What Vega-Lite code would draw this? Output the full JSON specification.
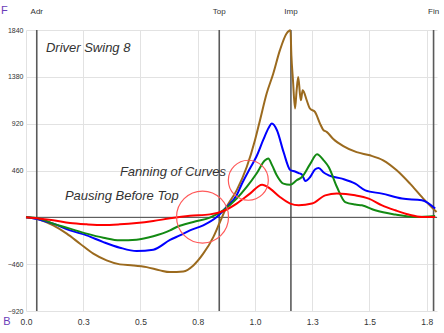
{
  "$schema": "https://vega.github.io/schema/vega-lite/v6.json",
  "width": 411,
  "height": 281,
  "autosize": {"type": "none"},
  "padding": {"left": 26, "top": 30, "right": 7, "bottom": 22},
  "background": "white",
  "config": {
    "font": "Liberation Sans",
    "view": {"stroke": null}
  },
  "datasets": {
    "curves": [
      {"s":"Hand","t":0,"v":0},{"s":"Hand","t":0.061,"v":-23},{"s":"Hand","t":0.119,"v":-79},{"s":"Hand","t":0.178,"v":-160},{"s":"Hand","t":0.236,"v":-259},{"s":"Hand","t":0.294,"v":-357},{"s":"Hand","t":0.352,"v":-423},{"s":"Hand","t":0.41,"v":-462},{"s":"Hand","t":0.469,"v":-472},{"s":"Hand","t":0.527,"v":-489},{"s":"Hand","t":0.585,"v":-521},{"s":"Hand","t":0.629,"v":-538},{"s":"Hand","t":0.687,"v":-531},{"s":"Hand","t":0.731,"v":-472},{"s":"Hand","t":0.774,"v":-357},{"s":"Hand","t":0.818,"v":-194},{"s":"Hand","t":0.847,"v":-46},{"s":"Hand","t":0.876,"v":101},{"s":"Hand","t":0.92,"v":265},{"s":"Hand","t":0.964,"v":494},{"s":"Hand","t":1.0,"v":757},{"s":"Hand","t":1.022,"v":954},{"s":"Hand","t":1.051,"v":1216},{"s":"Hand","t":1.08,"v":1413},{"s":"Hand","t":1.109,"v":1642},{"s":"Hand","t":1.138,"v":1806},{"s":"Hand","t":1.155,"v":1838},{"s":"Hand","t":1.159,"v":1592},{"s":"Hand","t":1.166,"v":1346},{"s":"Hand","t":1.175,"v":1069},{"s":"Hand","t":1.182,"v":1250},{"s":"Hand","t":1.189,"v":1379},{"s":"Hand","t":1.197,"v":1200},{"s":"Hand","t":1.201,"v":1150},{"s":"Hand","t":1.208,"v":1248},{"s":"Hand","t":1.214,"v":1230},{"s":"Hand","t":1.226,"v":1150},{"s":"Hand","t":1.24,"v":1069},{"s":"Hand","t":1.262,"v":1035},{"s":"Hand","t":1.284,"v":921},{"s":"Hand","t":1.298,"v":860},{"s":"Hand","t":1.313,"v":839},{"s":"Hand","t":1.342,"v":770},{"s":"Hand","t":1.386,"v":700},{"s":"Hand","t":1.444,"v":640},{"s":"Hand","t":1.502,"v":609},{"s":"Hand","t":1.56,"v":560},{"s":"Hand","t":1.619,"v":462},{"s":"Hand","t":1.677,"v":331},{"s":"Hand","t":1.735,"v":184},{"s":"Hand","t":1.793,"v":52},
      {"s":"Arm","t":0,"v":0},{"s":"Arm","t":0.061,"v":-23},{"s":"Arm","t":0.119,"v":-62},{"s":"Arm","t":0.192,"v":-128},{"s":"Arm","t":0.265,"v":-177},{"s":"Arm","t":0.338,"v":-243},{"s":"Arm","t":0.41,"v":-298},{"s":"Arm","t":0.483,"v":-331},{"s":"Arm","t":0.556,"v":-318},{"s":"Arm","t":0.629,"v":-222},{"s":"Arm","t":0.672,"v":-177},{"s":"Arm","t":0.716,"v":-128},{"s":"Arm","t":0.774,"v":-79},{"s":"Arm","t":0.833,"v":3},{"s":"Arm","t":0.876,"v":101},{"s":"Arm","t":0.92,"v":216},{"s":"Arm","t":0.943,"v":330},{"s":"Arm","t":0.978,"v":480},{"s":"Arm","t":1.007,"v":600},{"s":"Arm","t":1.036,"v":760},{"s":"Arm","t":1.06,"v":880},{"s":"Arm","t":1.074,"v":921},{"s":"Arm","t":1.096,"v":855},{"s":"Arm","t":1.125,"v":640},{"s":"Arm","t":1.154,"v":465},{"s":"Arm","t":1.175,"v":450},{"s":"Arm","t":1.191,"v":435},{"s":"Arm","t":1.205,"v":420},{"s":"Arm","t":1.22,"v":357},{"s":"Arm","t":1.241,"v":396},{"s":"Arm","t":1.262,"v":470},{"s":"Arm","t":1.278,"v":485},{"s":"Arm","t":1.3,"v":440},{"s":"Arm","t":1.322,"v":413},{"s":"Arm","t":1.38,"v":380},{"s":"Arm","t":1.438,"v":331},{"s":"Arm","t":1.482,"v":265},{"s":"Arm","t":1.555,"v":233},{"s":"Arm","t":1.642,"v":184},{"s":"Arm","t":1.729,"v":167},{"s":"Arm","t":1.787,"v":86},
      {"s":"Thorax","t":0,"v":0},{"s":"Thorax","t":0.061,"v":-13},{"s":"Thorax","t":0.119,"v":-62},{"s":"Thorax","t":0.192,"v":-111},{"s":"Thorax","t":0.265,"v":-160},{"s":"Thorax","t":0.338,"v":-200},{"s":"Thorax","t":0.41,"v":-226},{"s":"Thorax","t":0.483,"v":-219},{"s":"Thorax","t":0.556,"v":-185},{"s":"Thorax","t":0.629,"v":-128},{"s":"Thorax","t":0.658,"v":-95},{"s":"Thorax","t":0.731,"v":-46},{"s":"Thorax","t":0.803,"v":-3},{"s":"Thorax","t":0.862,"v":69},{"s":"Thorax","t":0.92,"v":184},{"s":"Thorax","t":0.964,"v":298},{"s":"Thorax","t":1.007,"v":430},{"s":"Thorax","t":1.044,"v":560},{"s":"Thorax","t":1.058,"v":577},{"s":"Thorax","t":1.075,"v":510},{"s":"Thorax","t":1.095,"v":413},{"s":"Thorax","t":1.124,"v":331},{"s":"Thorax","t":1.154,"v":320},{"s":"Thorax","t":1.182,"v":364},{"s":"Thorax","t":1.205,"v":396},{"s":"Thorax","t":1.24,"v":520},{"s":"Thorax","t":1.271,"v":619},{"s":"Thorax","t":1.3,"v":560},{"s":"Thorax","t":1.322,"v":494},{"s":"Thorax","t":1.358,"v":298},{"s":"Thorax","t":1.394,"v":150},{"s":"Thorax","t":1.438,"v":125},{"s":"Thorax","t":1.467,"v":118},{"s":"Thorax","t":1.525,"v":69},{"s":"Thorax","t":1.613,"v":27},{"s":"Thorax","t":1.7,"v":3},{"s":"Thorax","t":1.787,"v":13},
      {"s":"Pelvis","t":0,"v":0},{"s":"Pelvis","t":0.061,"v":-13},{"s":"Pelvis","t":0.119,"v":-29},{"s":"Pelvis","t":0.192,"v":-56},{"s":"Pelvis","t":0.265,"v":-69},{"s":"Pelvis","t":0.338,"v":-76},{"s":"Pelvis","t":0.41,"v":-69},{"s":"Pelvis","t":0.483,"v":-56},{"s":"Pelvis","t":0.556,"v":-36},{"s":"Pelvis","t":0.629,"v":-10},{"s":"Pelvis","t":0.716,"v":15},{"s":"Pelvis","t":0.803,"v":29},{"s":"Pelvis","t":0.862,"v":62},{"s":"Pelvis","t":0.92,"v":135},{"s":"Pelvis","t":0.978,"v":233},{"s":"Pelvis","t":1.031,"v":321},{"s":"Pelvis","t":1.066,"v":282},{"s":"Pelvis","t":1.109,"v":200},{"s":"Pelvis","t":1.154,"v":135},{"s":"Pelvis","t":1.191,"v":118},{"s":"Pelvis","t":1.249,"v":135},{"s":"Pelvis","t":1.307,"v":216},{"s":"Pelvis","t":1.358,"v":233},{"s":"Pelvis","t":1.438,"v":216},{"s":"Pelvis","t":1.497,"v":184},{"s":"Pelvis","t":1.555,"v":118},{"s":"Pelvis","t":1.613,"v":69},{"s":"Pelvis","t":1.671,"v":27},{"s":"Pelvis","t":1.729,"v":3},{"s":"Pelvis","t":1.787,"v":3}
    ],
    "events": [
      {"event":"Adr","t":0.047},{"event":"Top","t":0.844},{"event":"Imp","t":1.157},{"event":"Fin","t":1.78}
    ],
    "notes": [
      {"note":"Driver Swing 8","t":0.087,"v":1661},
      {"note":"Fanning of Curves","t":0.41,"v":442},
      {"note":"Pausing Before Top","t":0.17,"v":206}
    ],
    "corner": [
      {"letter":"F","t":-0.094,"v":2025},
      {"letter":"B","t":-0.083,"v":-1027}
    ]
  },
  "layer": [
    {
      "data": {"name": "events"},
      "mark": {"type": "rule", "color": "#5a5a5a", "strokeWidth": 1.6},
      "encoding": {
        "x": {
          "field": "t", "type": "quantitative",
          "scale": {"domain": [0, 1.795], "nice": false, "zero": false},
          "axis": {
            "orient": "bottom", "values": [0, 0.25, 0.5, 0.75, 1, 1.25, 1.5, 1.75],
            "format": ".1f", "grid": true, "gridColor": "#e2e2e2", "domain": false, "ticks": false,
            "title": null, "labelFontSize": 8.5, "labelColor": "#333", "labelPadding": 6,
            "labelFlush": false, "labelOverlap": false
          }
        }
      }
    },
    {
      "data": {"name": "events"},
      "mark": {"type": "text", "fontSize": 8, "color": "#333", "align": "center", "baseline": "middle"},
      "encoding": {
        "x": {"field": "t", "type": "quantitative"},
        "y": {"datum": 2017},
        "text": {"field": "event"}
      }
    },
    {
      "data": {"values": [{"v": 0}]},
      "mark": {"type": "rule", "color": "#444", "strokeWidth": 1},
      "encoding": {
        "y": {
          "field": "v", "type": "quantitative",
          "scale": {"domain": [-920, 1840], "nice": false, "zero": false},
          "axis": {
            "orient": "left",
            "values": [-920, -460, 0, 460, 920, 1380, 1840],
            "labelExpr": "datum.value == 0 ? '' : datum.label",
            "format": "d", "grid": true, "gridColor": "#e2e2e2", "domain": false, "ticks": false,
            "title": null, "labelFontSize": 7, "labelColor": "#333", "labelPadding": 3,
            "labelFlush": false, "labelOverlap": false
          }
        }
      }
    },
    {
      "data": {"name": "curves"},
      "mark": {"type": "line", "strokeWidth": 2, "interpolate": "monotone"},
      "encoding": {
        "x": {"field": "t", "type": "quantitative"},
        "y": {"field": "v", "type": "quantitative"},
        "color": {
          "field": "s", "type": "nominal", "legend": null,
          "scale": {"domain": ["Hand", "Arm", "Thorax", "Pelvis"], "range": ["#9b6a1e", "#0000ff", "#138a13", "#ff0000"]}
        },
        "order": {"field": "t", "type": "quantitative"}
      }
    },
    {
      "data": {"values": [{"t": 0.771, "v": 3}]},
      "mark": {"type": "point", "shape": "circle", "filled": false, "size": 2704, "stroke": "#ff5a5a", "strokeWidth": 1.2, "opacity": 1},
      "encoding": {
        "x": {"field": "t", "type": "quantitative"},
        "y": {"field": "v", "type": "quantitative"}
      }
    },
    {
      "data": {"values": [{"t": 0.971, "v": 364}]},
      "mark": {"type": "point", "shape": "circle", "filled": false, "size": 1600, "stroke": "#ff5a5a", "strokeWidth": 1.2, "opacity": 1},
      "encoding": {
        "x": {"field": "t", "type": "quantitative"},
        "y": {"field": "v", "type": "quantitative"}
      }
    },
    {
      "data": {"name": "notes"},
      "mark": {"type": "text", "align": "left", "baseline": "middle", "fontStyle": "italic", "fontSize": 13, "color": "#333"},
      "encoding": {
        "x": {"field": "t", "type": "quantitative"},
        "y": {"field": "v", "type": "quantitative"},
        "text": {"field": "note"}
      }
    },
    {
      "data": {"name": "corner"},
      "mark": {"type": "text", "align": "center", "baseline": "middle", "fontSize": 11, "color": "#6a3cb8"},
      "encoding": {
        "x": {"field": "t", "type": "quantitative"},
        "y": {"field": "v", "type": "quantitative"},
        "text": {"field": "letter"}
      }
    }
  ]
}
